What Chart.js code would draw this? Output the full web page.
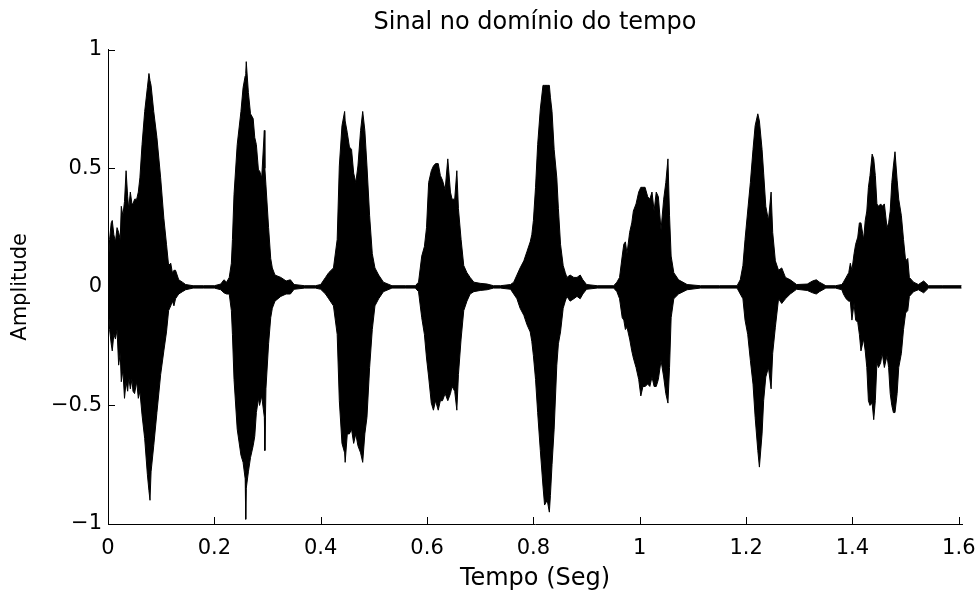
<!DOCTYPE html>
<html>
<head>
<meta charset="utf-8">
<script src="https://cdn.jsdelivr.net/npm/chart.js@4.4.1/dist/chart.umd.min.js"></script>
<style>
  html, body { margin: 0; padding: 0; background: #fff; }
</style>
</head>
<body>
<canvas id="sinalChart" width="980" height="598"></canvas>
<script>
var tempo = [
  0.000,0.003,0.006,0.008,0.011,0.014,0.017,0.020,0.023,0.025,0.028,0.031,0.034,0.037,0.039,0.042,0.045,0.047,0.050,0.054,0.057,0.060,0.064,0.069,0.074,0.077,0.079,0.081,0.086,0.092,0.099,0.105,0.110,0.114,0.118,0.121,0.124,0.127,0.133,0.140,0.146,0.160,
  0.180,0.200,0.212,0.218,0.223,0.228,0.232,
  0.234,0.237,0.243,0.250,0.254,0.258,0.259,0.260,0.264,0.268,0.273,0.276,0.279,0.283,0.285,0.289,0.294,0.295,0.297,0.302,0.306,0.309,0.314,0.325,0.335,0.343,0.350,0.370,0.390,0.400,
  0.409,0.415,0.424,0.431,0.435,0.440,0.445,0.446,0.450,0.454,0.458,0.462,0.466,0.470,0.475,0.479,0.483,0.487,0.492,0.497,0.502,0.509,0.518,0.534,0.559,0.578,0.584,
  0.590,0.595,0.599,0.603,0.608,0.612,0.616,0.621,0.625,0.629,0.634,0.639,0.644,0.647,0.652,0.656,0.659,0.664,0.669,0.675,0.681,0.688,0.700,0.713,0.725,
  0.738,0.757,0.763,0.769,0.775,0.782,0.788,0.794,0.797,0.800,0.804,0.808,0.813,0.818,0.821,0.826,0.830,0.832,0.835,0.839,0.844,0.847,0.851,0.856,0.860,0.863,0.869,0.876,0.882,0.888,0.893,0.900,0.920,
  0.951,0.957,0.962,0.967,0.970,0.973,0.976,0.981,0.985,0.988,0.993,0.998,1.002,1.006,1.010,1.015,1.019,1.023,1.027,1.031,1.035,1.040,1.045,1.049,1.053,1.056,1.059,1.064,1.073,1.089,1.114,1.150,1.183,
  1.189,1.194,1.198,1.203,1.208,1.213,1.217,1.222,1.225,1.230,1.233,1.237,1.242,1.247,1.250,1.255,1.261,1.267,1.274,1.283,1.295,1.315,1.325,1.332,1.338,1.350,1.368,
  1.380,1.383,1.388,1.393,1.396,1.399,1.403,1.406,1.410,1.413,1.416,1.421,1.424,1.427,1.430,1.433,1.437,1.440,1.443,1.446,1.449,1.453,1.456,1.460,1.465,1.468,1.471,1.474,1.477,1.480,1.484,1.487,1.492,1.496,1.500,1.504,1.507,1.515,1.524,1.534,1.543,1.570,1.605
];
var envSup = [
  0.05,0.20,0.27,0.28,0.22,0.19,0.25,0.23,0.20,0.34,0.30,0.36,0.49,0.38,0.33,0.40,0.35,0.35,0.37,0.37,0.40,0.46,0.60,0.74,0.84,0.90,0.87,0.85,0.74,0.63,0.46,0.29,0.18,0.09,0.10,0.06,0.07,0.07,0.03,0.02,0.01,0.005,
  0.005,0.005,0.012,0.03,0.02,0.04,0.10,
  0.20,0.39,0.60,0.74,0.84,0.89,0.90,0.95,0.82,0.73,0.71,0.63,0.60,0.49,0.49,0.46,0.66,0.50,0.43,0.25,0.12,0.08,0.05,0.04,0.025,0.03,0.01,0.005,0.005,0.01,
  0.04,0.06,0.08,0.20,0.51,0.68,0.74,0.70,0.65,0.59,0.58,0.48,0.44,0.51,0.66,0.74,0.66,0.51,0.30,0.14,0.08,0.05,0.02,0.005,0.005,0.005,0.02,
  0.13,0.17,0.25,0.44,0.49,0.51,0.52,0.52,0.47,0.45,0.41,0.54,0.40,0.37,0.37,0.49,0.33,0.20,0.09,0.06,0.04,0.02,0.015,0.012,0.005,
  0.005,0.01,0.02,0.05,0.08,0.11,0.15,0.19,0.22,0.28,0.42,0.60,0.75,0.85,0.85,0.85,0.85,0.80,0.74,0.58,0.46,0.33,0.18,0.09,0.06,0.04,0.05,0.04,0.04,0.05,0.03,0.01,0.005,
  0.005,0.02,0.04,0.13,0.18,0.19,0.14,0.23,0.27,0.32,0.35,0.40,0.42,0.42,0.42,0.38,0.37,0.40,0.32,0.40,0.38,0.24,0.37,0.44,0.54,0.30,0.13,0.06,0.03,0.01,0.005,0.005,0.005,
  0.03,0.09,0.20,0.32,0.44,0.58,0.68,0.73,0.70,0.58,0.48,0.34,0.28,0.40,0.23,0.11,0.07,0.08,0.04,0.03,0.01,0.012,0.025,0.03,0.02,0.005,0.005,
  0.01,0.02,0.04,0.06,0.10,0.07,0.14,0.18,0.21,0.27,0.27,0.20,0.28,0.32,0.42,0.47,0.56,0.54,0.47,0.35,0.34,0.35,0.34,0.35,0.25,0.27,0.32,0.44,0.51,0.57,0.45,0.37,0.30,0.20,0.11,0.12,0.04,0.02,0.01,0.025,0.005,0.005,0.005
];
var envInf = [
  -0.05,-0.18,-0.24,-0.27,-0.20,-0.22,-0.18,-0.33,-0.28,-0.40,-0.35,-0.47,-0.40,-0.44,-0.38,-0.43,-0.39,-0.44,-0.45,-0.40,-0.47,-0.44,-0.54,-0.64,-0.79,-0.86,-0.90,-0.78,-0.67,-0.53,-0.37,-0.27,-0.19,-0.10,-0.08,-0.06,-0.08,-0.05,-0.03,-0.02,-0.012,-0.005,
  -0.005,-0.005,-0.012,-0.025,-0.03,-0.03,-0.10,
  -0.20,-0.39,-0.60,-0.71,-0.74,-0.81,-0.98,-0.85,-0.78,-0.72,-0.67,-0.63,-0.53,-0.47,-0.50,-0.46,-0.55,-0.69,-0.43,-0.24,-0.13,-0.09,-0.06,-0.04,-0.03,-0.03,-0.01,-0.005,-0.005,-0.01,
  -0.03,-0.05,-0.08,-0.20,-0.48,-0.66,-0.70,-0.74,-0.62,-0.62,-0.60,-0.66,-0.62,-0.67,-0.70,-0.74,-0.62,-0.55,-0.34,-0.18,-0.08,-0.05,-0.02,-0.005,-0.005,-0.005,-0.02,
  -0.13,-0.20,-0.30,-0.38,-0.49,-0.52,-0.48,-0.52,-0.48,-0.48,-0.45,-0.48,-0.45,-0.42,-0.44,-0.52,-0.37,-0.22,-0.10,-0.06,-0.03,-0.02,-0.015,-0.012,-0.005,
  -0.005,-0.01,-0.03,-0.05,-0.09,-0.12,-0.16,-0.19,-0.23,-0.29,-0.39,-0.53,-0.69,-0.84,-0.92,-0.90,-0.95,-0.88,-0.75,-0.60,-0.33,-0.24,-0.19,-0.09,-0.06,-0.04,-0.06,-0.05,-0.04,-0.05,-0.03,-0.01,-0.005,
  -0.005,-0.02,-0.05,-0.13,-0.14,-0.18,-0.17,-0.22,-0.27,-0.30,-0.34,-0.39,-0.46,-0.42,-0.42,-0.41,-0.42,-0.38,-0.42,-0.42,-0.39,-0.31,-0.38,-0.45,-0.49,-0.34,-0.13,-0.05,-0.03,-0.012,-0.005,-0.005,-0.005,
  -0.03,-0.05,-0.14,-0.20,-0.31,-0.41,-0.55,-0.69,-0.76,-0.62,-0.48,-0.38,-0.34,-0.43,-0.28,-0.17,-0.05,-0.07,-0.05,-0.03,-0.01,-0.015,-0.025,-0.03,-0.02,-0.005,-0.005,
  -0.012,-0.03,-0.05,-0.06,-0.06,-0.14,-0.07,-0.14,-0.15,-0.20,-0.27,-0.22,-0.27,-0.34,-0.48,-0.50,-0.49,-0.56,-0.48,-0.32,-0.34,-0.32,-0.28,-0.34,-0.29,-0.34,-0.45,-0.50,-0.53,-0.53,-0.45,-0.34,-0.28,-0.18,-0.11,-0.10,-0.04,-0.02,-0.012,-0.025,-0.005,-0.005,-0.005
];
var xTicks = [0, 0.2, 0.4, 0.6, 0.8, 1, 1.2, 1.4, 1.6];
var yTicks = [-1, -0.5, 0, 0.5, 1];

var n = Math.min(tempo.length, envSup.length, envInf.length);
var ptsSup = [], ptsInf = [];
for (var i = 0; i < n; i++) {
  ptsSup.push({ x: tempo[i], y: envSup[i] });
  ptsInf.push({ x: tempo[i], y: envInf[i] });
}

var familia = '"DejaVu Sans", sans-serif';
var fonteTicks = { family: familia, size: 21, weight: 'normal' };
var fonteTitulo = { family: familia, size: 24, weight: 'normal' };
var fonteY = { family: familia, size: 21, weight: 'normal' };

// MATLAB style ticks pointing into the plot
var ticksInternos = {
  id: 'ticksInternos',
  afterDraw: function (chart) {
    var ctx = chart.ctx, sx = chart.scales.x, sy = chart.scales.y, area = chart.chartArea;
    ctx.save();
    ctx.strokeStyle = '#000';
    ctx.lineWidth = 1;
    ctx.beginPath();
    sx.ticks.forEach(function (t) {
      var px = Math.round(sx.getPixelForValue(t.value)) + 0.5;
      ctx.moveTo(px, area.bottom);
      ctx.lineTo(px, area.bottom - 7);
    });
    sy.ticks.forEach(function (t) {
      var py = Math.round(sy.getPixelForValue(t.value)) + 0.5;
      ctx.moveTo(area.left, py);
      ctx.lineTo(area.left + 7, py);
    });
    ctx.stroke();
    ctx.restore();
  }
};

var sinalChart = new Chart(document.getElementById('sinalChart'), {
  type: 'line',
  data: {
    datasets: [{
      label: 'sup',
      data: ptsSup,
      borderColor: '#000',
      backgroundColor: '#000',
      borderWidth: 1,
      pointRadius: 0,
      tension: 0,
      fill: '+1'
    }, {
      label: 'inf',
      data: ptsInf,
      borderColor: '#000',
      backgroundColor: '#000',
      borderWidth: 1,
      pointRadius: 0,
      tension: 0,
      fill: false
    }]
  },
  options: {
    responsive: false,
    animation: false,
    devicePixelRatio: 1,
    layout: { padding: { left: 0, right: 18, top: 0, bottom: 0 } },
    plugins: {
      legend: { display: false },
      tooltip: { enabled: false },
      title: {
        display: true,
        fullSize: false,
        text: 'Sinal no domínio do tempo',
        color: '#000',
        font: fonteTitulo,
        padding: { top: 8, bottom: 13 }
      }
    },
    scales: {
      x: {
        type: 'linear',
        min: 0,
        max: 1.606,
        afterBuildTicks: function (s) { s.ticks = xTicks.map(function (v) { return { value: v }; }); },
        afterFit: function (s) { s.height = 74; s.paddingRight = 0; s.paddingLeft = 0; },
        border: { display: true, color: '#000', width: 1 },
        grid: { display: false, drawTicks: false },
        ticks: {
          color: '#000',
          font: fonteTicks,
          padding: 12,
          maxRotation: 0,
          autoSkip: false,
          callback: function (v) { return String(Number(v.toFixed(2))); }
        },
        title: { display: true, text: 'Tempo (Seg)', color: '#000', font: fonteTitulo, padding: { top: 4, bottom: 5 } }
      },
      y: {
        type: 'linear',
        min: -1,
        max: 1,
        afterBuildTicks: function (s) { s.ticks = yTicks.map(function (v) { return { value: v }; }); },
        afterFit: function (s) { s.width = 108; },
        border: { display: true, color: '#000', width: 1 },
        grid: { display: false, drawTicks: false },
        ticks: {
          color: '#000',
          font: fonteTicks,
          padding: 6,
          callback: function (v) { return String(v).replace('-', '\u2212'); }
        },
        title: { display: true, text: 'Amplitude', color: '#000', font: fonteY, padding: { top: 8, bottom: 4 } }
      }
    }
  },
  plugins: [ticksInternos]
});
</script>
</body>
</html>
